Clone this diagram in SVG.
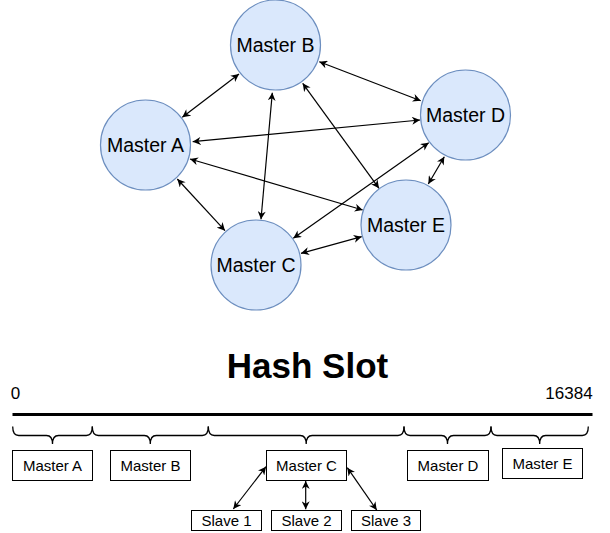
<svg xmlns="http://www.w3.org/2000/svg" width="610" height="533" viewBox="0 0 610 533">
<style>
.node circle{fill:#dae8fc;stroke:#6c8ebf;stroke-width:1.2}
.lbl{font-family:"Liberation Sans",Arial,sans-serif;fill:#000;text-anchor:middle}
.nt{font-size:19.5px}
.bt{font-size:15px}
.box rect{fill:#fff;stroke:#000;stroke-width:1}
.edge{stroke:#000;stroke-width:1.2;fill:none;marker-start:url(#arr);marker-end:url(#arr)}
.brace{stroke:#000;stroke-width:1.3;fill:none}
</style>
<defs>
<marker id="arr" viewBox="0 0 10 10" refX="10" refY="5" markerWidth="9" markerHeight="8" markerUnits="userSpaceOnUse" orient="auto-start-reverse">
<path d="M0,0 L10,5 L0,10 L3,5 Z" fill="#000"/>
</marker>
</defs>
<rect width="610" height="533" fill="#fff"/>
<g id="connectors">
<line class="edge" x1="182.3" y1="117.3" x2="239" y2="74"/>
<line class="edge" x1="272.3" y1="92.7" x2="261" y2="219.3"/>
<line class="edge" x1="302.7" y1="83.3" x2="379" y2="188.3"/>
<line class="edge" x1="319.3" y1="61.7" x2="420.7" y2="100.7"/>
<line class="edge" x1="192.7" y1="141.7" x2="420" y2="120"/>
<line class="edge" x1="190" y1="159" x2="362.7" y2="210"/>
<line class="edge" x1="177.3" y1="179" x2="225" y2="230.7"/>
<line class="edge" x1="301" y1="253.3" x2="361.7" y2="236.7"/>
<line class="edge" x1="293.3" y1="238.3" x2="428.7" y2="142.7"/>
<line class="edge" x1="444.3" y1="156.7" x2="428.3" y2="184"/>
<line class="edge" x1="266" y1="466.7" x2="233.3" y2="509"/>
<line class="edge" x1="305.7" y1="481" x2="305.7" y2="509.3"/>
<line class="edge" x1="347.3" y1="467.7" x2="376.7" y2="510"/>
</g>
<g id="masterA" class="node"><circle cx="145.5" cy="145" r="45"/><text class="lbl nt" x="145.5" y="152">Master A</text></g>
<g id="masterB" class="node"><circle cx="275.5" cy="45" r="45"/><text class="lbl nt" x="275.5" y="52">Master B</text></g>
<g id="masterC" class="node"><circle cx="256" cy="265" r="45"/><text class="lbl nt" x="256" y="272">Master C</text></g>
<g id="masterD" class="node"><circle cx="465.5" cy="115" r="45"/><text class="lbl nt" x="465.5" y="122">Master D</text></g>
<g id="masterE" class="node"><circle cx="406" cy="225" r="45"/><text class="lbl nt" x="406" y="232">Master E</text></g>
<g id="title"><text class="lbl" x="307.5" y="377.7" font-size="35" font-weight="bold">Hash Slot</text></g>
<g id="axis">
<text class="lbl" x="15.5" y="399" font-size="17">0</text>
<text class="lbl" x="569" y="399" font-size="17">16384</text>
<line x1="12.5" y1="414.5" x2="592.5" y2="414.5" stroke="#000" stroke-width="3.2"/>
</g>
<g id="braces">
<path class="brace" d="M12.7,426.5 Q12.7,435.5 18.7,435.5 L46.5,435.5 Q52.5,435.5 52.5,444 Q52.5,435.5 58.5,435.5 L86.3,435.5 Q92.3,435.5 92.3,426.5"/>
<path class="brace" d="M92.3,426.5 Q92.3,435.5 98.3,435.5 L144.3,435.5 Q150.3,435.5 150.3,444 Q150.3,435.5 156.3,435.5 L202.3,435.5 Q208.3,435.5 208.3,426.5"/>
<path class="brace" d="M208.3,426.5 Q208.3,435.5 214.3,435.5 L300.2,435.5 Q306.2,435.5 306.2,444 Q306.2,435.5 312.2,435.5 L398,435.5 Q404,435.5 404,426.5"/>
<path class="brace" d="M404,426.5 Q404,435.5 410,435.5 L441.5,435.5 Q447.5,435.5 447.5,444 Q447.5,435.5 453.5,435.5 L485,435.5 Q491,435.5 491,426.5"/>
<path class="brace" d="M491,426.5 Q491,435.5 497,435.5 L533.7,435.5 Q539.7,435.5 539.7,444 Q539.7,435.5 545.7,435.5 L582.3,435.5 Q588.3,435.5 588.3,426.5"/>
</g>
<g id="boxA" class="box"><rect x="12.5" y="450.5" width="80" height="30"/><text class="lbl bt" x="52.5" y="471">Master A</text></g>
<g id="boxB" class="box"><rect x="110.5" y="450.5" width="80" height="30"/><text class="lbl bt" x="150.5" y="471">Master B</text></g>
<g id="boxC" class="box"><rect x="266.5" y="450.5" width="80" height="30"/><text class="lbl bt" x="306.5" y="471">Master C</text></g>
<g id="boxD" class="box"><rect x="407.5" y="450.5" width="81" height="30"/><text class="lbl bt" x="448" y="471">Master D</text></g>
<g id="boxE" class="box"><rect x="502.5" y="448.5" width="80" height="30"/><text class="lbl bt" x="542.5" y="469">Master E</text></g>
<g id="slave1" class="box"><rect x="191.5" y="510.5" width="70" height="20"/><text class="lbl bt" x="226.5" y="526">Slave 1</text></g>
<g id="slave2" class="box"><rect x="271.5" y="510.5" width="70" height="20"/><text class="lbl bt" x="306.5" y="526">Slave 2</text></g>
<g id="slave3" class="box"><rect x="351.5" y="510.5" width="69" height="20"/><text class="lbl bt" x="386" y="526">Slave 3</text></g>
</svg>
